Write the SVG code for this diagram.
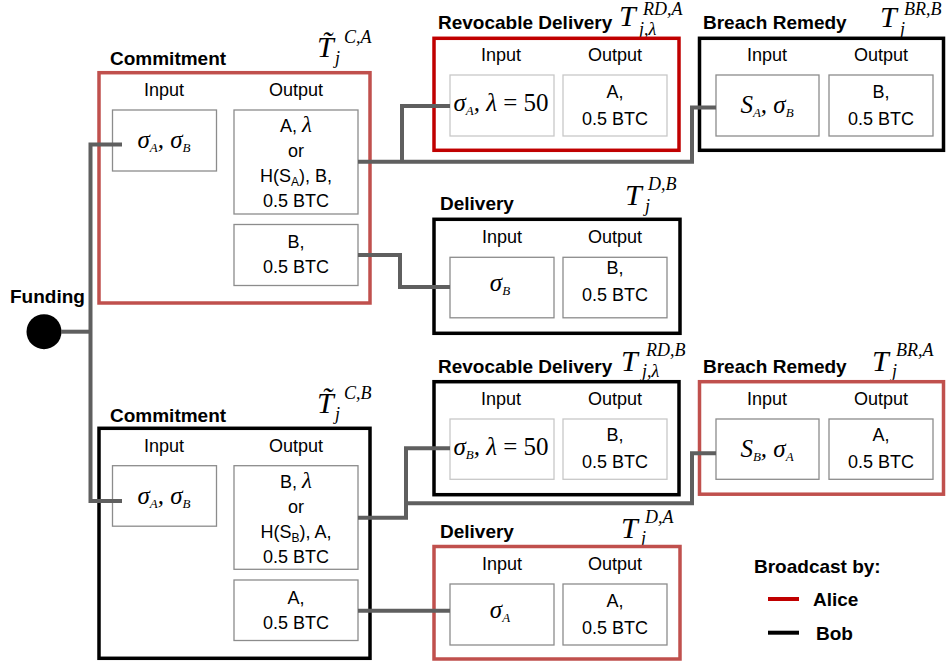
<svg xmlns="http://www.w3.org/2000/svg" width="949" height="664" viewBox="0 0 949 664">
<style>
.lbl{font-family:"Liberation Sans",Arial,sans-serif;font-size:18px;fill:#000}
.hd{font-family:"Liberation Sans",Arial,sans-serif;font-size:19px;font-weight:bold;fill:#000}
.mi{font-family:"Liberation Serif","Times New Roman",serif;font-style:italic;fill:#000}
.up{font-style:normal}
.T{font-size:30px}
.sp{font-size:18px}
.box{fill:none;stroke-width:3.5}
.red{stroke:#c0504d}
.dred{stroke:#c00000}
.blk{stroke:#000}
.in{fill:#fff;stroke:#8c8c8c;stroke-width:1.3}
.inl{fill:#fff;stroke:#c8c8c8;stroke-width:1.3}
.conn{fill:none;stroke:#5f5f5f;stroke-width:4}
</style>
<rect width="949" height="664" fill="#fff"/>

<g id="funding">
<text class="hd" x="10" y="303" font-size="16">Funding</text>
<circle cx="44" cy="331.7" r="17.5" fill="#000"/>
</g>

<g id="commitment-a">
<text class="hd" x="110" y="65">Commitment</text>
<text class="mi T" x="317" y="57">T&#x303;</text>
<text class="mi sp" x="344" y="43">C,A</text>
<text class="mi sp" x="335" y="64">j</text>
<rect class="box red" x="99" y="72.7" width="271" height="230.3"/>
<text class="lbl" x="164" y="96" text-anchor="middle">Input</text>
<text class="lbl" x="296" y="96" text-anchor="middle">Output</text>
<rect class="in" x="112.5" y="110" width="104" height="61"/>
<rect class="in" x="234" y="110" width="124" height="104"/>
<rect class="in" x="234" y="224.5" width="124" height="61"/>
<text class="mi" x="164" y="148" font-size="25" text-anchor="middle">σ<tspan font-size="13" dy="4">A</tspan><tspan dy="-4">, σ</tspan><tspan font-size="13" dy="4">B</tspan></text>
<text class="lbl" x="296" y="132" text-anchor="middle">A, <tspan class="mi" font-size="23">λ</tspan></text>
<text class="lbl" x="296" y="157" text-anchor="middle">or</text>
<text class="lbl" x="296" y="182" text-anchor="middle">H(S<tspan font-size="12" dy="4">A</tspan><tspan dy="-4">), B,</tspan></text>
<text class="lbl" x="296" y="207" text-anchor="middle">0.5 BTC</text>
<text class="lbl" x="296" y="248" text-anchor="middle">B,</text>
<text class="lbl" x="296" y="273" text-anchor="middle">0.5 BTC</text>
</g>

<g id="revocable-delivery-a">
<text class="hd" x="438" y="29">Revocable Delivery</text>
<text class="mi T" x="619" y="26">T</text>
<text class="mi sp" x="643" y="15">RD,A</text>
<text class="mi sp" x="639" y="35">j,λ</text>
<rect class="box dred" x="434" y="38.3" width="245" height="112"/>
<text class="lbl" x="501" y="61" text-anchor="middle">Input</text>
<text class="lbl" x="615" y="61" text-anchor="middle">Output</text>
<rect class="inl" x="450" y="75" width="104" height="61"/>
<rect class="inl" x="563" y="75" width="104" height="61"/>
<text class="mi" x="501" y="111" font-size="25" text-anchor="middle">σ<tspan font-size="13" dy="4">A</tspan><tspan dy="-4">, λ </tspan><tspan class="up">= 50</tspan></text>
<text class="lbl" x="615" y="98" text-anchor="middle">A,</text>
<text class="lbl" x="615" y="125" text-anchor="middle">0.5 BTC</text>
</g>

<g id="breach-remedy-b">
<text class="hd" x="703" y="29">Breach Remedy</text>
<text class="mi T" x="880" y="27">T</text>
<text class="mi sp" x="904" y="15">BR,B</text>
<text class="mi sp" x="900" y="35">j</text>
<rect class="box blk" x="699.5" y="38.3" width="244" height="112"/>
<text class="lbl" x="767" y="61" text-anchor="middle">Input</text>
<text class="lbl" x="881" y="61" text-anchor="middle">Output</text>
<rect class="in" x="716" y="75" width="103" height="61"/>
<rect class="in" x="829" y="75" width="104" height="61"/>
<text class="mi" x="767" y="113" font-size="25" text-anchor="middle">S<tspan font-size="13" dy="4">A</tspan><tspan dy="-4">, σ</tspan><tspan font-size="13" dy="4">B</tspan></text>
<text class="lbl" x="881" y="98" text-anchor="middle">B,</text>
<text class="lbl" x="881" y="125" text-anchor="middle">0.5 BTC</text>
</g>

<g id="delivery-b">
<text class="hd" x="440" y="210">Delivery</text>
<text class="mi T" x="625" y="205">T</text>
<text class="mi sp" x="648" y="190">D,B</text>
<text class="mi sp" x="645" y="212">j</text>
<rect class="box blk" x="434" y="219.3" width="246" height="114"/>
<text class="lbl" x="502" y="243" text-anchor="middle">Input</text>
<text class="lbl" x="615" y="243" text-anchor="middle">Output</text>
<rect class="in" x="450" y="257.3" width="104" height="60.5"/>
<rect class="in" x="563" y="257.3" width="104" height="60.5"/>
<text class="mi" x="500" y="291" font-size="25" text-anchor="middle">σ<tspan font-size="13" dy="4">B</tspan></text>
<text class="lbl" x="615" y="274" text-anchor="middle">B,</text>
<text class="lbl" x="615" y="301" text-anchor="middle">0.5 BTC</text>
</g>

<g id="commitment-b">
<text class="hd" x="110" y="421.7">Commitment</text>
<text class="mi T" x="317" y="413">T&#x303;</text>
<text class="mi sp" x="344" y="399">C,B</text>
<text class="mi sp" x="335" y="420">j</text>
<rect class="box blk" x="99" y="428.3" width="271" height="230"/>
<text class="lbl" x="164" y="452" text-anchor="middle">Input</text>
<text class="lbl" x="296" y="452" text-anchor="middle">Output</text>
<rect class="in" x="112.5" y="465.7" width="104" height="60.5"/>
<rect class="in" x="234" y="465.7" width="124" height="103.6"/>
<rect class="in" x="234" y="580" width="124" height="60.5"/>
<text class="mi" x="164" y="504" font-size="25" text-anchor="middle">σ<tspan font-size="13" dy="4">A</tspan><tspan dy="-4">, σ</tspan><tspan font-size="13" dy="4">B</tspan></text>
<text class="lbl" x="296" y="488" text-anchor="middle">B, <tspan class="mi" font-size="23">λ</tspan></text>
<text class="lbl" x="296" y="513" text-anchor="middle">or</text>
<text class="lbl" x="296" y="538" text-anchor="middle">H(S<tspan font-size="12" dy="4">B</tspan><tspan dy="-4">), A,</tspan></text>
<text class="lbl" x="296" y="563" text-anchor="middle">0.5 BTC</text>
<text class="lbl" x="296" y="604" text-anchor="middle">A,</text>
<text class="lbl" x="296" y="629" text-anchor="middle">0.5 BTC</text>
</g>

<g id="revocable-delivery-b">
<text class="hd" x="438" y="373">Revocable Delivery</text>
<text class="mi T" x="621" y="371">T</text>
<text class="mi sp" x="646" y="356">RD,B</text>
<text class="mi sp" x="642" y="377">j,λ</text>
<rect class="box blk" x="434" y="381.7" width="245" height="113"/>
<text class="lbl" x="501" y="405" text-anchor="middle">Input</text>
<text class="lbl" x="615" y="405" text-anchor="middle">Output</text>
<rect class="inl" x="450" y="419" width="104" height="60.3"/>
<rect class="inl" x="563" y="419" width="104" height="60.3"/>
<text class="mi" x="501" y="455" font-size="25" text-anchor="middle">σ<tspan font-size="13" dy="4">B</tspan><tspan dy="-4">, λ </tspan><tspan class="up">= 50</tspan></text>
<text class="lbl" x="615" y="441" text-anchor="middle">B,</text>
<text class="lbl" x="615" y="468" text-anchor="middle">0.5 BTC</text>
</g>

<g id="breach-remedy-a">
<text class="hd" x="703" y="373">Breach Remedy</text>
<text class="mi T" x="872" y="371">T</text>
<text class="mi sp" x="896" y="356">BR,A</text>
<text class="mi sp" x="892" y="377">j</text>
<rect class="box red" x="699.5" y="381.7" width="244" height="112.5"/>
<text class="lbl" x="767" y="405" text-anchor="middle">Input</text>
<text class="lbl" x="881" y="405" text-anchor="middle">Output</text>
<rect class="in" x="716" y="419" width="103" height="60.3"/>
<rect class="in" x="829" y="419" width="104" height="60.3"/>
<text class="mi" x="767" y="457" font-size="25" text-anchor="middle">S<tspan font-size="13" dy="4">B</tspan><tspan dy="-4">, σ</tspan><tspan font-size="13" dy="4">A</tspan></text>
<text class="lbl" x="881" y="441" text-anchor="middle">A,</text>
<text class="lbl" x="881" y="468" text-anchor="middle">0.5 BTC</text>
</g>

<g id="delivery-a">
<text class="hd" x="440" y="538">Delivery</text>
<text class="mi T" x="621" y="538">T</text>
<text class="mi sp" x="645" y="523">D,A</text>
<text class="mi sp" x="641" y="544">j</text>
<rect class="box red" x="434" y="546.5" width="246" height="112.5"/>
<text class="lbl" x="502" y="570" text-anchor="middle">Input</text>
<text class="lbl" x="615" y="570" text-anchor="middle">Output</text>
<rect class="in" x="450" y="584" width="104" height="61"/>
<rect class="in" x="563" y="584" width="104" height="61"/>
<text class="mi" x="500" y="618" font-size="25" text-anchor="middle">σ<tspan font-size="13" dy="4">A</tspan></text>
<text class="lbl" x="615" y="607" text-anchor="middle">A,</text>
<text class="lbl" x="615" y="634" text-anchor="middle">0.5 BTC</text>
</g>

<g id="legend">
<text class="hd" x="754" y="573">Broadcast by:</text>
<line x1="768" y1="599" x2="799" y2="599" stroke="#c00000" stroke-width="4"/>
<text class="hd" x="813" y="606">Alice</text>
<line x1="768" y1="632.7" x2="799" y2="632.7" stroke="#000" stroke-width="4"/>
<text class="hd" x="816" y="640">Bob</text>
</g>

<g id="connectors" class="conn">
<path d="M61,331.7 H90.5"/>
<path d="M122,144.5 H90.5 V501 H122"/>
<path d="M358,161.7 H692 V107.5 H716"/>
<path d="M402,161.7 V106 H450"/>
<path d="M358,255 H400 V287 H450"/>
<path d="M358,517.7 H406 V448.3 H450"/>
<path d="M406,503.3 H692 V453.3 H716"/>
<path d="M358,610.7 H450"/>
</g>
</svg>
